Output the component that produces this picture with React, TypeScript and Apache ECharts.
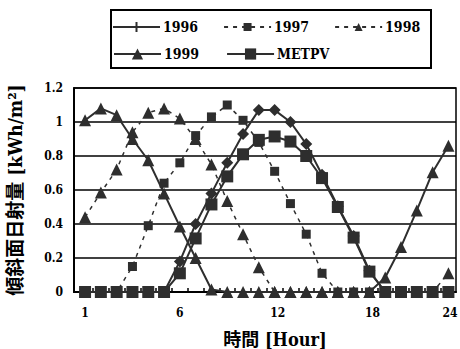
import React, { useEffect, useRef } from "react";
import * as echarts from "echarts";

const hours = [1, 2, 3, 4, 5, 6, 7, 8, 9, 10, 11, 12, 13, 14, 15, 16, 17, 18, 19, 20, 21, 22, 23, 24];
const v1996 = [0, 0, 0, 0, 0, 0, 0.18, 0.4, 0.58, 0.76, 0.93, 1.07, 1.07, 1.0, 0.87, 0.69, 0.505, 0.33, 0.125, 0, 0, 0, 0, 0];
const v1997 = [0, 0, 0, 0.15, 0.39, 0.64, 0.76, 0.92, 1.03, 1.1, 1.01, 0.88, 0.71, 0.52, 0.34, 0.11, 0, 0, 0, 0, 0, 0, 0, 0];
const v1998 = [0.44, 0.585, 0.72, 0.94, 1.055, 1.08, 1.02, 0.9, 0.75, 0.535, 0.34, 0.145, 0, 0, 0, 0, 0, 0, 0, 0, 0, 0, 0, 0.11];
const v1999 = [1.01, 1.08, 1.04, 0.9, 0.775, 0.58, 0.385, 0.2, 0.015, 0, 0, 0, 0, 0, 0, 0, 0, 0, 0, 0.085, 0.265, 0.48, 0.705, 0.86];
const vMETPV = [0, 0, 0, 0, 0, 0, 0.11, 0.315, 0.515, 0.68, 0.81, 0.895, 0.915, 0.885, 0.8, 0.67, 0.5, 0.32, 0.12, 0, 0, 0, 0, 0];

const xTickLabels = ["1", "6", "12", "18", "24"];
const xTickLabelPos = [1, 7, 13.2, 19.2, 24.1];
const xTickPos = [1.5, 2.5, 3.5, 4.5, 5.5, 6.5, 7.5, 8.5, 9.5, 10.5, 11.5, 12.5, 13.5, 14.5, 15.5, 16.5, 17.5, 18.5, 19.5, 20.5, 21.5, 22.5, 23.5];

const FONT = "'DejaVu Serif Condensed', 'DejaVu Serif', 'Noto Sans CJK JP', serif";
const INK = "#2e2e2e";

const pairs = (vals: number[]) => hours.map((h, i) => [h, vals[i]]);

export default function App() {
  const ref = useRef<HTMLDivElement>(null);
  useEffect(() => {
    if (!ref.current) return;
    const chart = echarts.init(ref.current, null, { renderer: "svg" });
    const dash = [4, 5];
    const legendText = { fontFamily: FONT, fontWeight: "bold", fontSize: 14, color: "#000", padding: [0, 0, 0, -2] };
    chart.setOption({
      animation: false,
      backgroundColor: "#ffffff",
      textStyle: { fontFamily: FONT, fontWeight: "bold", color: "#000" },
      grid: {
        left: 74,
        top: 88,
        width: 382,
        height: 204,
        outerBoundsMode: "none",
        containLabel: false,
        show: true,
        borderColor: "#000",
        borderWidth: 1.5,
        backgroundColor: "transparent",
      },
      legend: [
        {
          data: [
            { name: "1996", icon: "path://M0,4.1h47v1.8h-47z M22.5,0h2v10h-2z" },
            { name: "1997" },
            { name: "1998" },
          ],
          left: 113,
          top: 20,
          padding: 0,
          itemWidth: 47,
          itemHeight: 10,
          itemGap: 25,
          textStyle: legendText,
        },
        {
          data: ["1999", "METPV"],
          left: 113,
          top: 47,
          padding: 0,
          itemWidth: 47,
          itemHeight: 14,
          itemGap: 27,
          textStyle: legendText,
        },
      ],
      graphic: [
        {
          type: "rect",
          shape: { x: 111, y: 10, width: 320, height: 58 },
          style: { fill: "none", stroke: "#000", lineWidth: 2 },
          silent: true,
        },
      ],
      xAxis: {
        type: "value",
        min: 0.3,
        max: 24.48,
        name: "時間 [Hour]",
        nameLocation: "middle",
        nameGap: 38,
        nameTextStyle: { fontFamily: FONT, fontWeight: "bold", fontSize: 18, color: "#000", padding: [0, 0, 0, 20] },
        axisLine: { show: true, lineStyle: { color: "#000", width: 2 } },
        axisTick: { show: true, inside: true, length: 4, customValues: xTickPos, lineStyle: { color: "#000", width: 1.5 } },
        axisLabel: {
          show: true,
          customValues: xTickLabelPos,
          margin: 15,
          fontFamily: FONT,
          fontWeight: "bold",
          fontSize: 12,
          color: "#000",
          formatter: (v: number) => {
            const i = xTickLabelPos.findIndex((p) => Math.abs(p - v) < 1e-6);
            return i >= 0 ? xTickLabels[i] : "";
          },
        },
        splitLine: { show: false },
      },
      yAxis: {
        type: "value",
        min: 0,
        max: 1.2,
        interval: 0.2,
        name: "傾斜面日射量 [kWh/m²]",
        nameLocation: "middle",
        nameRotate: 90,
        nameGap: 50,
        nameTextStyle: { fontFamily: FONT, fontWeight: "bold", fontSize: 19, color: "#000" },
        axisLine: { show: true, lineStyle: { color: "#000", width: 2 } },
        axisTick: { show: false },
        axisLabel: {
          margin: 11,
          fontFamily: FONT,
          fontWeight: "bold",
          fontSize: 12,
          color: "#000",
          formatter: (v: number) => String(Math.round(v * 10) / 10),
        },
        splitLine: { show: true, lineStyle: { color: "#000", width: 1.5 } },
      },
      series: [
        {
          name: "1996",
          type: "line",
          data: pairs(v1996),
          symbol: "diamond",
          symbolSize: 12,
          itemStyle: { color: INK },
          lineStyle: { color: INK, width: 2 },
        },
        {
          name: "1997",
          type: "line",
          data: pairs(v1997),
          symbol: "rect",
          symbolSize: 9,
          itemStyle: { color: INK },
          lineStyle: { color: INK, width: 1.5, type: dash },
        },
        {
          name: "1998",
          type: "line",
          data: pairs(v1998),
          symbol: "triangle",
          symbolSize: 12,
          itemStyle: { color: INK },
          lineStyle: { color: INK, width: 1.5, type: dash },
        },
        {
          name: "1999",
          type: "line",
          data: pairs(v1999),
          symbol: "triangle",
          symbolSize: 12,
          itemStyle: { color: INK },
          lineStyle: { color: INK, width: 2 },
        },
        {
          name: "METPV",
          type: "line",
          data: pairs(vMETPV),
          symbol: "rect",
          symbolSize: 12,
          itemStyle: { color: INK },
          lineStyle: { color: INK, width: 2 },
        },
      ],
    });
    return () => chart.dispose();
  }, []);
  return (
    <div
      ref={ref}
      style={{ position: "absolute", left: 0, top: 0, width: 460, height: 349, background: "#fff" }}
    />
  );
}
